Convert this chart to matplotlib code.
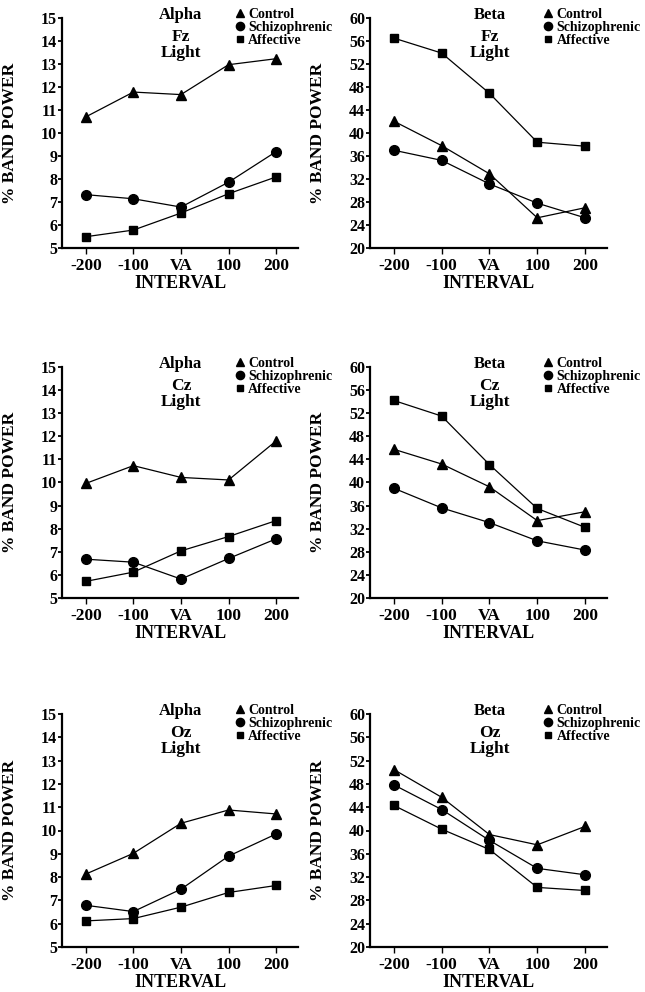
import matplotlib
matplotlib.use("Agg")
import matplotlib.pyplot as plt
from matplotlib.lines import Line2D

intervals = ["-200", "-100", "VA", "100", "200"]
groups = ["Control", "Schizophrenic", "Affective"]
markers = ["^", "o", "s"]
msizes = [6.5, 7.0, 5.5]

# Alpha band (% band power), Light condition
alpha_fz_control = [10.7, 11.78, 11.67, 12.97, 13.23]
alpha_fz_schizo = [7.32, 7.14, 6.78, 7.86, 9.19]
alpha_fz_affective = [5.49, 5.78, 6.52, 7.36, 8.09]

alpha_cz_control = [9.96, 10.73, 10.22, 10.11, 11.8]
alpha_cz_schizo = [6.68, 6.55, 5.82, 6.71, 7.56]
alpha_cz_affective = [5.72, 6.12, 7.04, 7.66, 8.35]

alpha_oz_control = [8.13, 9.02, 10.31, 10.88, 10.71]
alpha_oz_schizo = [6.79, 6.52, 7.48, 8.9, 9.85]
alpha_oz_affective = [6.12, 6.22, 6.71, 7.34, 7.64]

# Beta band
beta_fz_control = [42.05, 37.8, 32.9, 25.25, 27.0]
beta_fz_schizo = [37.0, 35.24, 31.14, 27.8, 25.25]
beta_fz_affective = [56.5, 53.9, 46.9, 38.4, 37.7]

beta_cz_control = [45.75, 43.2, 39.25, 33.4, 34.94]
beta_cz_schizo = [39.0, 35.6, 33.05, 29.9, 28.3]
beta_cz_affective = [54.2, 51.5, 43.1, 35.5, 32.24]

beta_oz_control = [50.46, 45.7, 39.3, 37.54, 40.7]
beta_oz_schizo = [47.83, 43.6, 38.3, 33.5, 32.4]
beta_oz_affective = [44.3, 40.23, 36.74, 30.23, 29.7]

alpha_ticks = list(range(5, 16))
beta_ticks = list(range(20, 61, 4))

panels = [
    ("Alpha", "Fz", [alpha_fz_control, alpha_fz_schizo, alpha_fz_affective], (5, 15), alpha_ticks),
    ("Beta", "Fz", [beta_fz_control, beta_fz_schizo, beta_fz_affective], (20, 60), beta_ticks),
    ("Alpha", "Cz", [alpha_cz_control, alpha_cz_schizo, alpha_cz_affective], (5, 15), alpha_ticks),
    ("Beta", "Cz", [beta_cz_control, beta_cz_schizo, beta_cz_affective], (20, 60), beta_ticks),
    ("Alpha", "Oz", [alpha_oz_control, alpha_oz_schizo, alpha_oz_affective], (5, 15), alpha_ticks),
    ("Beta", "Oz", [beta_oz_control, beta_oz_schizo, beta_oz_affective], (20, 60), beta_ticks),
]

FONT = "Liberation Serif"
W, H = 645, 992
fig = plt.figure(figsize=(W / 100, H / 100), dpi=100)
fig.patch.set_facecolor("white")

rows_px = [(18, 248), (367, 598), (714, 947)]
cols_px = [(62, 298), (370, 607)]

for i, (band, site, series, ylim, yticks) in enumerate(panels):
    r, c = divmod(i, 2)
    top, bot = rows_px[r]
    left, right = cols_px[c]
    ax = fig.add_axes([left / W, 1 - bot / H, (right - left) / W, (bot - top) / H])
    x = list(range(len(intervals)))
    for vals, m, ms in zip(series, markers, msizes):
        ax.plot(x, vals, color="black", lw=0.9, marker=m, ms=ms,
                markerfacecolor="black", markeredgecolor="black", clip_on=False)
    ax.set_xlim(-0.5, 4.46)
    ax.set_ylim(*ylim)
    ax.set_yticks(yticks)
    ax.set_xticks(x)
    ax.set_xticklabels(intervals)
    for s in ["top", "right"]:
        ax.spines[s].set_visible(False)
    for s in ["left", "bottom"]:
        ax.spines[s].set_linewidth(1.6)
    ax.tick_params(axis="y", direction="out", length=3, width=1.3, pad=0.5)
    ax.tick_params(axis="x", direction="out", length=4, width=1.0, pad=3)
    for lab in ax.get_yticklabels():
        lab.set_fontfamily(FONT)
        lab.set_fontweight("bold")
        lab.set_fontsize(11.5)
    for lab in ax.get_xticklabels():
        lab.set_fontfamily(FONT)
        lab.set_fontweight("bold")
        lab.set_fontsize(12.5)
    ax.set_ylabel("% BAND POWER", fontfamily=FONT, fontweight="bold", fontsize=12.5)
    ax.yaxis.set_label_coords(-44 / (right - left), 0.5)
    ax.set_xlabel("INTERVAL", fontfamily=FONT, fontweight="bold", fontsize=13, va="top")
    ax.xaxis.set_label_coords(0.5, -(27) / (bot - top))

    hpx = bot - top
    xc = (2 + 0.5) / 4.96
    ax.text(xc, 1 + 3 / hpx, band, transform=ax.transAxes, ha="center", va="center",
            fontfamily=FONT, fontweight="bold", fontsize=12)
    ax.text(xc, 1 - 19 / hpx, site, transform=ax.transAxes, ha="center", va="center",
            fontfamily=FONT, fontweight="bold", fontsize=12.5)
    ax.text(xc, 1 - 35 / hpx, "Light", transform=ax.transAxes, ha="center", va="center",
            fontfamily=FONT, fontweight="bold", fontsize=12.5)

    handles = [Line2D([], [], linestyle="none", marker=m, ms=ms * 0.85, color="black")
               for m, ms in zip(markers, msizes)]
    leg = ax.legend(handles, groups, loc="upper left",
                    bbox_to_anchor=(0.735, 1 + 10 / hpx), frameon=False,
                    handlelength=0.6, handletextpad=0.3, labelspacing=0.0,
                    borderpad=0, borderaxespad=0,
                    prop={"family": FONT, "weight": "bold", "size": 10})
    leg.set_zorder(5)

fig.savefig("out.png", dpi=100, facecolor="white")
